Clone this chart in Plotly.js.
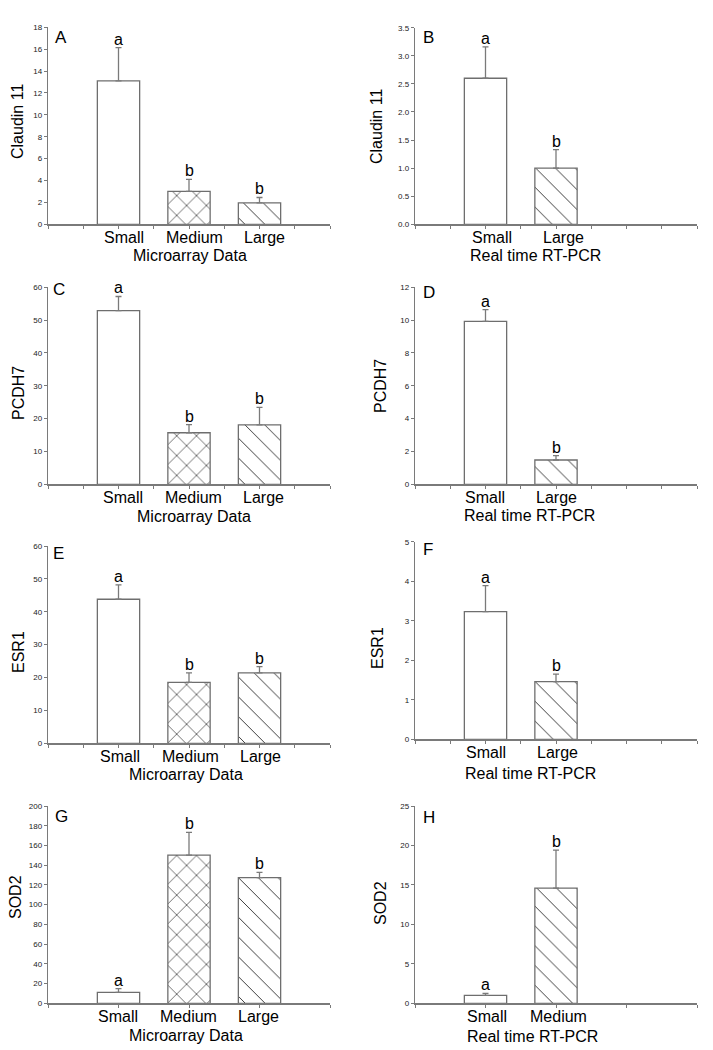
<!DOCTYPE html>
<html>
<head>
<meta charset="utf-8">
<script src="https://cdn.plot.ly/plotly-3.0.1.min.js"></script>
<style>html,body{margin:0;padding:0;background:#fff;}#chart{width:713px;height:1050px;}</style>
</head>
<body>
<div id="chart"></div>
<script>
// ---------- DATA ----------
const microCats = ['Small', 'Medium', 'Large'];
const rtCatsSL = ['Small', 'Large'];
const rtCatsSM = ['Small', 'Medium'];
const microTitle = 'Microarray Data';
const rtTitle = 'Real time RT-PCR';

// A: Claudin 11, microarray
const claudinMicro = [13.1, 3.0, 1.95];
const claudinMicroErr = [3.05, 1.1, 0.5];
const claudinMicroSig = ['a', 'b', 'b'];
// B: Claudin 11, RT-PCR
const claudinRT = [2.6, 1.0];
const claudinRTErr = [0.56, 0.33];
const claudinRTSig = ['a', 'b'];
// C: PCDH7, microarray
const pcdhMicro = [52.9, 15.7, 18.1];
const pcdhMicroErr = [4.3, 2.5, 5.3];
const pcdhMicroSig = ['a', 'b', 'b'];
// D: PCDH7, RT-PCR
const pcdhRT = [9.92, 1.48];
const pcdhRTErr = [0.72, 0.27];
const pcdhRTSig = ['a', 'b'];
// E: ESR1, microarray
const esrMicro = [43.8, 18.5, 21.4];
const esrMicroErr = [4.4, 2.9, 1.9];
const esrMicroSig = ['a', 'b', 'b'];
// F: ESR1, RT-PCR
const esrRT = [3.23, 1.46];
const esrRTErr = [0.66, 0.19];
const esrRTSig = ['a', 'b'];
// G: SOD2, microarray
const sodMicro = [11.0, 150.3, 127.4];
const sodMicroErr = [3.8, 23.0, 5.4];
const sodMicroSig = ['a', 'b', 'b'];
// H: SOD2, RT-PCR
const sodRT = [1.0, 14.6];
const sodRTErr = [0.27, 4.8];
const sodRTSig = ['a', 'b'];

// ---------- STYLE / LAYOUT ----------
const W = 713, H = 1050;
const FONT = 'Liberation Sans, Arial, sans-serif';
const AXIS = '#7a7a7a';
const patMicro = ['', 'x', '\\'];
const patRT = ['', '\\'];
const solidityFor = s => (s === 'x' ? 0.1 : 0.07);

const panels = [
  {L:'A', cats:microCats, v:claudinMicro, e:claudinMicroErr, s:claudinMicroSig, pat:patMicro, yl:'Claudin 11', xt:microTitle,
   box:[48,330,27.3,224.3], ymax:18, dt:2, fmt:'', xstep:0.5, shift:5, ylx:18, yly:122, xtx:190, xty:255, lx:53, ly:26},
  {L:'B', cats:rtCatsSL, v:claudinRT, e:claudinRTErr, s:claudinRTSig, pat:patRT, yl:'Claudin 11', xt:rtTitle,
   box:[415,697,27.7,224.3], ymax:3.5, dt:0.5, fmt:'.1f', xstep:0.5, shift:7, ylx:377, yly:127, xtx:535, xty:255, lx:421, ly:26},
  {L:'C', cats:microCats, v:pcdhMicro, e:pcdhMicroErr, s:pcdhMicroSig, pat:patMicro, yl:'PCDH7', xt:microTitle,
   box:[48,330,287.3,484.3], ymax:60, dt:10, fmt:'', xstep:0.5, shift:4, ylx:18, yly:393, xtx:194, xty:516, lx:51, ly:278},
  {L:'D', cats:rtCatsSL, v:pcdhRT, e:pcdhRTErr, s:pcdhRTSig, pat:patRT, yl:'PCDH7', xt:rtTitle,
   box:[415,697,287.3,484.3], ymax:12, dt:2, fmt:'', xstep:0.5, shift:0, ylx:380, yly:386, xtx:529, xty:515, lx:421, ly:281},
  {L:'E', cats:microCats, v:esrMicro, e:esrMicroErr, s:esrMicroSig, pat:patMicro, yl:'ESR1', xt:microTitle,
   box:[48,330,546,743.3], ymax:60, dt:10, fmt:'', xstep:0.5, shift:1, ylx:18, yly:652, xtx:186, xty:774, lx:51, ly:542},
  {L:'F', cats:rtCatsSL, v:esrRT, e:esrRTErr, s:esrRTSig, pat:patRT, yl:'ESR1', xt:rtTitle,
   box:[415,697,541.7,739.3], ymax:5, dt:1, fmt:'', xstep:0.5, shift:1, ylx:377, yly:648, xtx:530, xty:773, lx:421, ly:538},
  {L:'G', cats:microCats, v:sodMicro, e:sodMicroErr, s:sodMicroSig, pat:patMicro, yl:'SOD2', xt:microTitle,
   box:[48,330,806,1003.3], ymax:200, dt:20, fmt:'', xstep:1, shift:-1, ylx:15, yly:897, xtx:186, xty:1035, lx:53, ly:805},
  {L:'H', cats:rtCatsSM, v:sodRT, e:sodRTErr, s:sodRTSig, pat:patRT, yl:'SOD2', xt:rtTitle,
   box:[415,697,806,1003.3], ymax:25, dt:5, fmt:'', xstep:1, shift:2, ylx:380, yly:903, xtx:532, xty:1036, lx:421, ly:806},
];

const px = x => x / W;
const py = y => 1 - y / H;

const data = [];
const layout = {
  width: W, height: H,
  margin: {l:0, r:0, t:0, b:0},
  paper_bgcolor: '#fff', plot_bgcolor: 'rgba(0,0,0,0)',
  showlegend: false,
  font: {family: FONT, color: '#000'},
  annotations: []
};

panels.forEach((p, i) => {
  const n = i + 1;
  const xa = n === 1 ? 'x' : 'x' + n;
  const ya = n === 1 ? 'y' : 'y' + n;
  const xk = n === 1 ? 'xaxis' : 'xaxis' + n;
  const yk = n === 1 ? 'yaxis' : 'yaxis' + n;
  const xpos = p.cats.map((c, k) => k + 1);
  const shapes = p.pat.slice(0, p.v.length);

  data.push({
    type: 'bar', x: xpos, y: p.v, width: 0.6,
    xaxis: xa, yaxis: ya,
    marker: {
      color: '#ffffff',
      line: {color: '#6e6e6e', width: 1.3},
      pattern: {shape: shapes, fgcolor: '#3a3a3a', bgcolor: '#ffffff', size: 14, solidity: shapes.map(solidityFor)}
    },
    error_y: {type: 'data', symmetric: false, array: p.e, arrayminus: p.e.map(() => 0),
              color: '#7a7a7a', thickness: 1.3, width: 3},
    hoverinfo: 'skip'
  });

  const tv = [];
  for (let t = 0; t <= 4 + 1e-9; t += p.xstep) tv.push(t);

  layout[xk] = {
    domain: [px(p.box[0]), px(p.box[1])],
    anchor: ya, range: [0, 4], fixedrange: true,
    showline: true, linecolor: AXIS, linewidth: 1.2,
    showgrid: false, zeroline: false,
    ticks: 'outside', ticklen: 3, tickwidth: 1, tickcolor: AXIS,
    tickmode: 'array', tickvals: tv, showticklabels: false
  };
  layout[yk] = {
    domain: [py(p.box[3]), py(p.box[2])],
    anchor: xa, range: [0, p.ymax], fixedrange: true,
    showline: true, linecolor: AXIS, linewidth: 1.2,
    showgrid: false, zeroline: false,
    ticks: 'outside', ticklen: 3, tickwidth: 1, tickcolor: AXIS,
    tick0: 0, dtick: p.dt, tickformat: p.fmt,
    tickfont: {family: FONT, size: 8, color: '#222'}
  };

  // category labels under the axis
  p.cats.forEach((c, k) => {
    layout.annotations.push({
      xref: xa, yref: ya, x: k + 1, y: 0,
      text: c, showarrow: false, yanchor: 'middle', yshift: -13.5, xshift: p.shift,
      font: {family: FONT, size: 16, color: '#000'}
    });
  });
  // significance letters
  p.s.forEach((letter, k) => {
    layout.annotations.push({
      xref: xa, yref: ya, x: k + 1, y: p.v[k] + p.e[k],
      text: letter, showarrow: false, yanchor: 'bottom', yshift: -2,
      font: {family: FONT, size: 16, color: '#000'}
    });
  });
  // panel letter
  layout.annotations.push({
    xref: 'paper', yref: 'paper', x: px(p.lx), y: py(p.ly),
    xanchor: 'left', yanchor: 'top', text: p.L, showarrow: false,
    font: {family: FONT, size: 17, color: '#000'}
  });
  // y-axis label
  layout.annotations.push({
    xref: 'paper', yref: 'paper', x: px(p.ylx), y: py(p.yly),
    xanchor: 'center', yanchor: 'middle', textangle: -90, text: p.yl, showarrow: false,
    font: {family: FONT, size: 16, color: '#000'}
  });
  // x-axis title
  layout.annotations.push({
    xref: 'paper', yref: 'paper', x: px(p.xtx), y: py(p.xty),
    xanchor: 'center', yanchor: 'middle', text: p.xt, showarrow: false,
    font: {family: FONT, size: 16, color: '#000'}
  });
});

Plotly.newPlot('chart', data, layout, {staticPlot: true, displayModeBar: false});
</script>
</body>
</html>
